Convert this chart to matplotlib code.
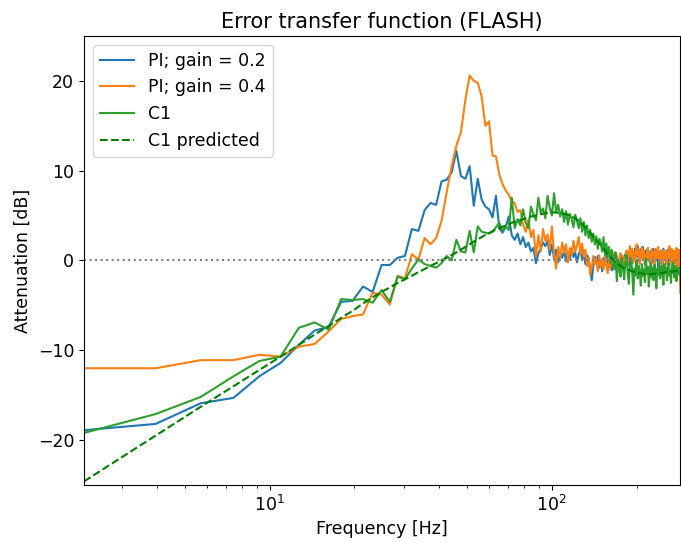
import numpy as np
import matplotlib

matplotlib.use("Agg")
import matplotlib.pyplot as plt

# FFT bin frequencies [Hz]: first bin 2.2 Hz, spacing 1.75 Hz, 163 bins
freq = np.arange(163) * 1.75 + 2.2

# PI controller, gain = 0.2
pi_02 = [
    -18.9, -18.2, -15.9, -15.3, -12.9, -11.4, -9.4, -7.8, -7.4, -4.6,
    -4.5, -2.9, -3.5, -0.5, -0.5, 0.3, 0.5, 3.5, 3.3, 5.6,
    6.4, 6.2, 8.8, 9.0, 9.8, 12.2, 9.4, 9.1, 10.5, 6.1,
    9.1, 6.8, 6.0, 5.7, 4.8, 7.2, 3.6, 3.1, 3.7, 4.9,
    2.8, 2.3, 3.0, 1.8, 2.6, 1.5, 2.0, 1.0, 1.4, -0.3,
    0.8, 1.3, 2.0, 1.6, 2.2, 0.6, 1.8, 0.2, 1.2, -0.2,
    0.9, 0.3, 1.1, -0.1, 0.8, 0.2, 1.3, 0.4, 0.9, -0.2,
    0.7, 1.2, 0.1, 0.8, -0.4, 0.6, 0.2, -1.0, -2.2, -0.6,
    0.4, -0.3, 0.5, -0.8, 0.1, -1.2, 0.3, -0.5, 0.6, -0.9,
    -0.2, 0.4, -1.1, -0.3, 0.2, -0.7, 0.5, -0.4, -1.3, 0.1,
    -0.6, 0.3, -0.9, 0.7, -0.2, 0.9, -0.5, 0.4, 1.2, -0.3,
    0.8, 0.2, 1.4, 0.5, 1.6, -0.1, 0.9, 1.3, 0.3, 1.5,
    0.6, -0.4, 1.1, 0.2, 1.4, 0.7, -0.2, 1.0, 0.4, 1.3,
    -0.3, 0.8, 1.2, 0.1, 0.6, -0.8, 0.9, 0.3, 1.1, -0.5,
    0.7, 1.3, 0.2, 0.9, -0.4, 0.5, 1.2, -0.2, 0.8, 0.3,
    1.0, -0.6, 0.4, 0.9, -0.3, 0.6, 1.1, 0.0, 0.7, -0.8,
    0.3, 0.9, 0.5,
]

# PI controller, gain = 0.4
pi_04 = [
    -12.0, -12.0, -11.1, -11.1, -10.5, -10.7, -9.6, -9.3, -7.9, -6.5,
    -6.2, -6.0, -3.6, -3.8, -4.9, -1.7, -2.0, 0.7, 0.1, 2.5,
    1.8, 2.5, 4.4, 7.6, 10.5, 12.8, 14.3, 17.9, 20.6, 20.0,
    19.8, 18.3, 15.0, 15.5, 11.7, 11.6, 9.6, 8.5, 7.8, 7.3,
    6.6, 6.4, 5.4, 5.6, 4.0, 3.2, 4.6, 2.6, 3.4, 0.4,
    2.8, 1.0, 3.5, 2.2, 2.9, 1.2, 3.8, 0.8, -0.9, 1.5,
    0.3, 2.0, 0.9, 1.8, -0.2, 1.4, 0.6, 2.2, 1.0, 1.7,
    2.6, 0.7, 1.9, 0.4, 1.2, -0.6, 0.3, -1.6, -0.8, 0.5,
    -0.4, 0.2, -1.2, 0.6, -0.7, 0.1, -1.0, 0.4, -0.5, -1.4,
    0.2, -0.9, 0.6, -0.3, 0.9, -0.6, 0.3, -1.1, 0.0, 0.8,
    -0.4, 0.5, -0.9, 0.2, 1.1, -0.3, 0.7, 1.6, 0.4, 1.3,
    -0.2, 1.0, 0.3, 1.8, 0.6, 1.2, -0.4, 0.9, 1.5, 0.2,
    1.1, 0.4, -0.6, 0.8, 1.4, 0.1, 0.7, -0.3, 1.2, 0.5,
    0.9, -0.5, 1.3, 0.2, 0.6, 1.5, -0.1, 0.8, 0.3, 1.1,
    -0.7, 0.5, 1.2, 0.1, 0.8, -0.4, 1.0, 0.4, 1.6, -0.2,
    0.7, 1.3, -0.5, 0.6, 1.1, -0.3, 0.4, 1.4, -1.0, 0.5,
    1.2, -0.6, -3.6,
]

# C1 controller, measured
c1 = [
    -19.2, -17.1, -15.2, -12.9, -11.2, -10.7, -7.5, -6.9, -7.7, -4.3,
    -4.4, -4.3, -4.7, -3.3, -4.6, -1.8, -2.1, -0.9, 0.1, -0.4,
    -0.6, -0.8, -0.3, 0.5, 0.0, 2.3, 1.0, 0.9, 3.3, 0.9,
    3.8, 3.2, 3.1, 3.0, 3.2, 3.7, 4.2, 3.3, 3.8, 3.4,
    7.0, 3.6, 4.6, 3.9, 5.7, 4.2, 3.6, 6.0, 5.1, 4.5,
    7.0, 5.3, 5.8, 4.7, 7.2, 5.9, 5.0, 7.5, 5.4, 6.2,
    4.9, 5.7, 4.3, 5.5, 4.0, 5.2, 4.6, 3.7, 5.1, 4.4,
    3.6, 4.7, 3.2, 4.3, 2.8, 3.9, 2.5, 3.4, 2.1, 3.0,
    1.8, 2.7, 1.3, 2.4, 2.0, 1.0, 2.6, 0.6, 1.9, 0.4,
    1.5, -0.3, 1.2, 0.2, -1.0, 0.9, -2.3, 0.1, -0.4, -1.8,
    0.3, -0.8, -2.1, -0.2, 0.6, -1.4, -2.6, -0.5, 0.2, -1.2,
    -3.8, -0.9, -1.6, 0.1, -2.0, -0.6, -1.3, -2.8, -0.4, -1.7,
    -1.0, -2.4, 0.2, -1.5, -0.7, -2.9, -1.1, -0.3, -1.9, -0.8,
    -2.2, -0.5, -1.4, -3.1, -0.9, -1.6, -0.2, -2.0, -1.2, -0.6,
    -1.8, -2.7, -0.4, -1.3, -0.8, -2.2, -1.0, -0.3, -1.7, -1.1,
    -2.5, -0.7, -1.4, -0.2, -1.9, -1.2, -0.6, -2.3, -0.9, -1.5,
    -0.8, -1.6, -1.0,
]

# C1 controller, model prediction
c1_pred = [
    -24.6, -19.5, -16.3, -14.0, -12.2, -10.7, -9.4, -8.25, -7.3, -6.4,
    -5.6, -4.8, -4.1, -3.5, -3.0, -2.5, -2.1, -1.7, -1.3, -0.95,
    -0.6, -0.3, 0.0, 0.3, 0.6, 0.9, 1.2, 1.5, 1.8, 2.1,
    2.35, 2.6, 2.85, 3.05, 3.25, 3.45, 3.6, 3.75, 3.9, 4.05,
    4.2, 4.3, 4.4, 4.5, 4.6, 4.7, 4.8, 4.9, 4.95, 5.0,
    5.1, 5.15, 5.2, 5.25, 5.3, 5.3, 5.35, 5.35, 5.35, 5.3,
    5.3, 5.25, 5.2, 5.15, 5.1, 5.0, 4.9, 4.8, 4.7, 4.55,
    4.4, 4.25, 4.1, 3.9, 3.7, 3.5, 3.3, 3.1, 2.9, 2.7,
    2.5, 2.3, 2.1, 1.9, 1.7, 1.5, 1.3, 1.1, 0.9, 0.7,
    0.55, 0.4, 0.25, 0.1, -0.05, -0.2, -0.3, -0.4, -0.5, -0.6,
    -0.7, -0.8, -0.85, -0.9, -0.95, -1.0, -1.05, -1.1, -1.15, -1.2,
    -1.25, -1.3, -1.3, -1.35, -1.35, -1.4, -1.4, -1.4, -1.45, -1.45,
    -1.5, -1.5, -1.5, -1.5, -1.5, -1.5, -1.5, -1.5, -1.5, -1.5,
    -1.5, -1.5, -1.45, -1.45, -1.45, -1.45, -1.4, -1.4, -1.4, -1.4,
    -1.4, -1.35, -1.35, -1.35, -1.3, -1.3, -1.3, -1.3, -1.25, -1.25,
    -1.25, -1.25, -1.2, -1.2, -1.2, -1.2, -1.15, -1.15, -1.15, -1.15,
    -1.1, -1.1, -1.1,
]

plt.rcParams["font.size"] = 12.5

fig = plt.figure(figsize=(6.81, 5.42), dpi=100)
ax = fig.add_axes([0.1233, 0.1052, 0.8757, 0.8284])

ax.semilogx(freq, pi_02, label="PI; gain = 0.2")
ax.semilogx(freq, pi_04, label="PI; gain = 0.4")
ax.semilogx(freq, c1, label="C1")
ax.semilogx(freq, c1_pred, "g--", label="C1 predicted")
ax.axhline(0, color="gray", ls=":")

ax.set_xlim(freq[0], freq[-1])
ax.set_ylim(-25, 25)
ax.set_xlabel("Frequency [Hz]")
ax.set_ylabel("Attenuation [dB]")
ax.set_title("Error transfer function (FLASH)", fontsize=15)
ax.legend(loc="upper left")

fig.savefig("out.png", dpi=100)
